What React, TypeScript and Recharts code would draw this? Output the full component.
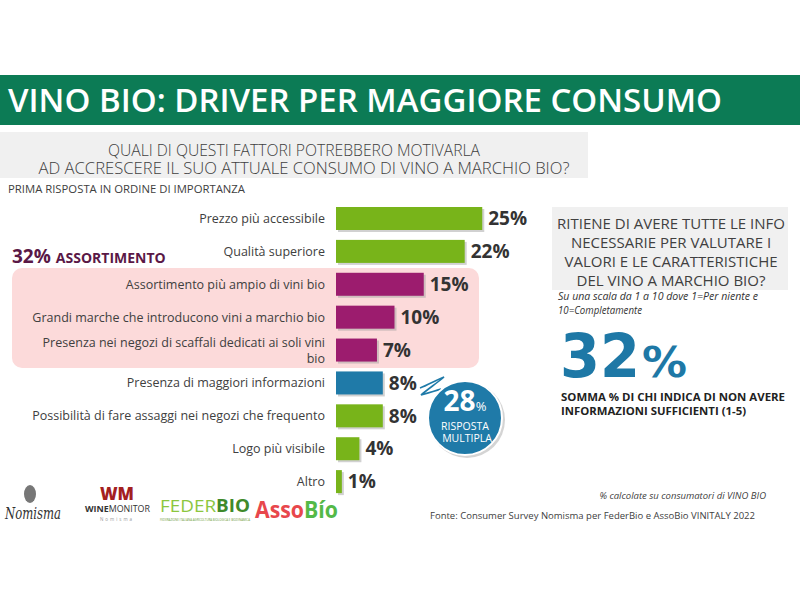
import React from "react";
import { BarChart, Bar, XAxis, YAxis, Cell, LabelList } from "recharts";

const categories = [
  "Prezzo più accessibile",
  "Qualità superiore",
  "Assortimento più ampio di vini bio",
  "Grandi marche che introducono vini a marchio bio",
  "Presenza nei negozi di scaffali dedicati ai soli vini bio",
  "Presenza di maggiori informazioni",
  "Possibilità di fare assaggi nei negozi che frequento",
  "Logo più visibile",
  "Altro",
];
const values = [25, 22, 15, 10, 7, 8, 8, 4, 1];
const groups = ["other", "other", "assort", "assort", "assort", "info", "other", "other", "other"];
const groupColors: Record<string, string> = { other: "#78b41a", assort: "#9c1c6e", info: "#1f7aa8" };

const data = categories.map((name, i) => ({ name, value: values[i], group: groups[i] }));

const FONT = "'Open Sans', 'Noto Sans', sans-serif";

function wrap(label: string, max: number): string[] {
  const words = label.split(" ");
  const lines: string[] = [];
  let cur = "";
  for (const w of words) {
    const next = cur ? cur + " " + w : w;
    if (next.length > max && cur) {
      lines.push(cur);
      cur = w;
    } else cur = next;
  }
  if (cur) lines.push(cur);
  return lines;
}

const CatTick = (props: any) => {
  const { x, y, payload } = props;
  const lines = wrap(String(payload.value), 53);
  const start = -((lines.length - 1) * 16) / 2;
  return (
    <text x={x} y={y} textAnchor="end" fill="#404040" fontSize={12.5} fontFamily={FONT}>
      {lines.map((l, i) => (
        <tspan key={i} x={x} dy={i === 0 ? start + 4.5 : 16}>
          {l}
        </tspan>
      ))}
    </text>
  );
};

const ShadowBar = (props: any) => {
  const { x, y, width, height, fill } = props;
  if (!width || width <= 0) return null;
  return (
    <g>
      <rect x={x + 2} y={y + 2} width={width} height={height} fill="#9a9a9a" opacity={0.45} />
      <rect x={x} y={y} width={width} height={height} fill={fill} />
    </g>
  );
};

export default function App() {
  return (
    <div style={{ position: "absolute", left: 0, top: 0, width: 800, height: 600, background: "#fff" }}>
      <svg width={800} height={600} style={{ position: "absolute", left: 0, top: 0 }}>
        {/* Banner */}
        <rect x={0} y={75} width={800} height={50} fill="#0c7b55" />
        <text x={8} y={112} fill="#fff" fontSize={33} fontWeight={600} fontFamily={FONT} textLength={714} lengthAdjust="spacingAndGlyphs">
          VINO BIO: DRIVER PER MAGGIORE CONSUMO
        </text>
        {/* Question box */}
        <rect x={0} y={132} width={588} height={46} fill="#f0f0f0" />
        <text x={294} y={156} textAnchor="middle" fill="#404040" fontSize={16} fontWeight={300} fontFamily={FONT} textLength={372} lengthAdjust="spacingAndGlyphs">
          QUALI DI QUESTI FATTORI POTREBBERO MOTIVARLA
        </text>
        <text x={304} y={174} textAnchor="middle" fill="#404040" fontSize={16} fontWeight={300} fontFamily={FONT} textLength={531} lengthAdjust="spacingAndGlyphs">
          AD ACCRESCERE IL SUO ATTUALE CONSUMO DI VINO A MARCHIO BIO?
        </text>
        <text x={8} y={193} fill="#404040" fontSize={10.5} fontFamily={FONT} textLength={237} lengthAdjust="spacingAndGlyphs">
          PRIMA RISPOSTA IN ORDINE DI IMPORTANZA
        </text>
        {/* Assortimento highlight */}
        <rect x={12} y={268} width={467} height={100} rx={10} fill="#fcdada" />
        <text x={12} y={263} fill="#5a1846" fontFamily={FONT} fontWeight={700}>
          <tspan fontSize={19}>32%</tspan>
          <tspan fontSize={14} dx={5}>ASSORTIMENTO</tspan>
        </text>
        {/* Right panel */}
        <rect x={552} y={207} width={236} height={83} fill="#f0f0f0" />
        {["RITIENE DI AVERE TUTTE LE INFO", "NECESSARIE PER VALUTARE I", "VALORI E LE CARATTERISTICHE", "DEL VINO A MARCHIO BIO?"].map((l, i) => (
          <text key={i} x={671} y={229 + i * 19} textAnchor="middle" fill="#404040" fontSize={15} fontFamily={FONT}>
            {l}
          </text>
        ))}
        <text x={558} y={300} fill="#333" fontSize={10} fontStyle="italic" fontFamily={FONT} textLength={200} lengthAdjust="spacingAndGlyphs">
          Su una scala da 1 a 10 dove 1=Per niente e
        </text>
        <text x={558} y={314} fill="#333" fontSize={10} fontStyle="italic" fontFamily={FONT} textLength={84} lengthAdjust="spacingAndGlyphs">
          10=Completamente
        </text>
        <text x={560} y={377} fill="#1e78a6" fontSize={60} fontFamily="'DejaVu Sans', sans-serif" fontWeight={700} textLength={80} lengthAdjust="spacingAndGlyphs">
          32
        </text>
        <text x={642} y={377} fill="#1e78a6" fontSize={42} fontFamily="'DejaVu Sans', sans-serif" fontWeight={700} textLength={45} lengthAdjust="spacingAndGlyphs">
          %
        </text>
        <text x={561} y={401} fill="#222" fontSize={10.5} fontWeight={700} fontFamily={FONT} textLength={224} lengthAdjust="spacingAndGlyphs">
          SOMMA % DI CHI INDICA DI NON AVERE
        </text>
        <text x={561} y={415} fill="#222" fontSize={10.5} fontWeight={700} fontFamily={FONT} textLength={185} lengthAdjust="spacingAndGlyphs">
          INFORMAZIONI SUFFICIENTI (1-5)
        </text>
        {/* Multiple answer bubble */}
        <path d="M420,388 C428,385 436,380 444,377 C437,383 428,389 421,395 C428,393 435,391 441,389" stroke="#1f7aa8" strokeWidth={1.6} fill="none" />
        <circle cx={467} cy={420} r={38} fill="#b8b8b8" opacity={0.6} />
        <circle cx={465} cy={418} r={37} fill="#1f7aa8" stroke="#fff" strokeWidth={2} />
        <text x={465} y={411} textAnchor="middle" fill="#fff" fontFamily={FONT} fontWeight={700}>
          <tspan fontSize={28}>28</tspan>
          <tspan fontSize={13} fontWeight={400}>%</tspan>
        </text>
        <text x={465} y={430} textAnchor="middle" fill="#fff" fontSize={10.5} fontFamily={FONT}>
          RISPOSTA
        </text>
        <text x={467} y={442} textAnchor="middle" fill="#fff" fontSize={10.5} fontFamily={FONT}>
          MULTIPLA
        </text>
        {/* Logos */}
        <ellipse cx={30} cy={494} rx={6} ry={9} fill="#777" />
        <text x={5} y={519} fill="#333" fontSize={17} fontStyle="italic" fontFamily="'DejaVu Serif', serif" textLength={56} lengthAdjust="spacingAndGlyphs">
          Nomisma
        </text>
        <text x={117} y={500} textAnchor="middle" fill="#a3201f" fontSize={17} fontWeight={900} fontFamily={FONT} textLength={34} lengthAdjust="spacingAndGlyphs">
          WM
        </text>
        <text x={85} y={512} fill="#333" fontSize={9} fontFamily={FONT} textLength={65} lengthAdjust="spacingAndGlyphs">
          <tspan fontWeight={700}>WINE</tspan>MONITOR
        </text>
        <text x={117} y={521} textAnchor="middle" fill="#999" fontSize={4.5} fontFamily={FONT} letterSpacing={2}>
          Nomisma
        </text>
        <text x={160} y={512} fontSize={17} fontFamily={FONT} textLength={90} lengthAdjust="spacingAndGlyphs">
          <tspan fill="#8cc63e">FEDER</tspan>
          <tspan fill="#3f8a2b" fontWeight={700}>BIO</tspan>
        </text>
        <text x={160} y={521} fill="#6a9a3a" fontSize={3} fontFamily={FONT} textLength={90} lengthAdjust="spacingAndGlyphs">
          FEDERAZIONE ITALIANA AGRICOLTURA BIOLOGICA E BIODINAMICA
        </text>
        <text x={255} y={518} fontSize={23} fontWeight={700} fontFamily={FONT} textLength={83} lengthAdjust="spacingAndGlyphs">
          <tspan fill="#e8474c">Asso</tspan>
          <tspan fill="#54b948">Bío</tspan>
        </text>
        {/* Footer */}
        <text x={766} y={499} textAnchor="end" fill="#404040" fontSize={9.5} fontStyle="italic" fontFamily={FONT}>
          % calcolate  su consumatori di VINO BIO
        </text>
        <text x={430} y={519} fill="#404040" fontSize={9.5} fontFamily={FONT} textLength={325} lengthAdjust="spacingAndGlyphs">
          Fonte: Consumer Survey Nomisma per FederBio e AssoBio VINITALY 2022
        </text>
      </svg>
      <div style={{ position: "absolute", left: 0, top: 0 }}>
        <BarChart
          width={800}
          height={600}
          data={data}
          layout="vertical"
          margin={{ top: 202, right: 230, bottom: 102, left: 0 }}
          barSize={23}
        >
          <XAxis type="number" domain={[0, 40]} hide />
          <YAxis
            type="category"
            dataKey="name"
            width={336}
            axisLine={false}
            tickLine={false}
            tickMargin={5}
            interval={0}
            tick={<CatTick />}
          />
          <Bar dataKey="value" isAnimationActive={false} shape={<ShadowBar />}>
            {data.map((d, i) => (
              <Cell key={i} fill={groupColors[d.group]} />
            ))}
            <LabelList
              dataKey="value"
              position="right"
              offset={6}
              formatter={(v: any) => `${v}%`}
              fill="#333"
              fontSize={19}
              fontWeight={700}
              fontFamily={FONT}
            />
          </Bar>
        </BarChart>
      </div>
    </div>
  );
}
